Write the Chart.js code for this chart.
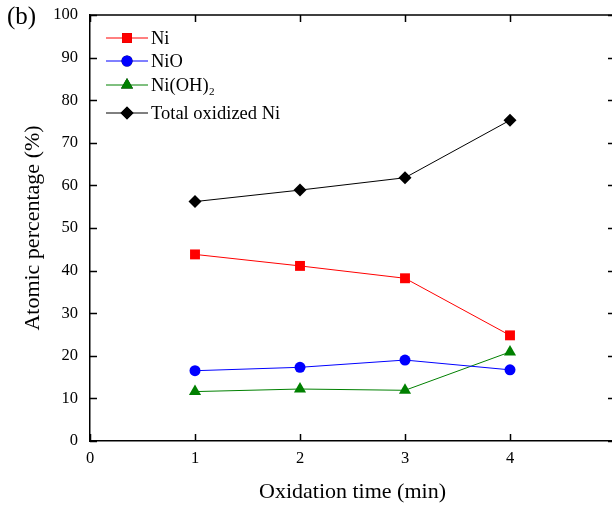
<!DOCTYPE html>
<html>
<head>
<meta charset="utf-8">
<script src="https://cdn.jsdelivr.net/npm/chart.js@4"></script>
<style>
  html, body { margin: 0; padding: 0; background: #fff; overflow: hidden; }
  #wrap { width: 622px; height: 510px; position: relative; }
</style>
</head>
<body>
<div id="wrap"><canvas id="myChart"></canvas></div>
<script>
// oxidation time (min)
const times = [1, 2, 3, 4];
const niVals = [43.8, 41.1, 38.2, 24.8];
const nioVals = [16.5, 17.3, 19.0, 16.7];
const niohVals = [11.6, 12.2, 11.9, 20.9];
const totalVals = [56.2, 58.9, 61.8, 75.3];
const seriesNames = ['Ni', 'NiO', 'Ni(OH)\u2082', 'Total oxidized Ni'];
const xTicks = [0, 1, 2, 3, 4, 5];
const yTicks = [0, 10, 20, 30, 40, 50, 60, 70, 80, 90, 100];

const serif = "'Liberation Serif', 'Times New Roman', serif";

function pts(vals) {
    return vals.map((v, i) => ({ x: times[i], y: v }));
}

// frame, inward ticks, legend, titles
const decor = {
    id: 'decor',
    afterDraw(chart) {
        const ctx = chart.ctx;
        const a = chart.chartArea;
        const xs = chart.scales.x, ys = chart.scales.y;
        ctx.save();
        ctx.strokeStyle = '#000';
        ctx.lineWidth = 1.5;
        ctx.beginPath();
        ctx.moveTo(a.left, a.top); ctx.lineTo(a.right, a.top);
        ctx.moveTo(a.right, a.top); ctx.lineTo(a.right, a.bottom);
        ctx.stroke();
        const tl = 7;
        ctx.beginPath();
        xTicks.forEach(v => {
            const px = Math.round(xs.getPixelForValue(v)) + 0.5;
            ctx.moveTo(px, a.bottom); ctx.lineTo(px, a.bottom - tl);
            ctx.moveTo(px, a.top); ctx.lineTo(px, a.top + tl);
        });
        yTicks.forEach(v => {
            const py = Math.round(ys.getPixelForValue(v)) + 0.5;
            ctx.moveTo(a.left, py); ctx.lineTo(a.left + tl, py);
            ctx.moveTo(a.right, py); ctx.lineTo(a.right - tl, py);
        });
        ctx.stroke();

        // legend
        const rows = [38, 61, 85, 113];
        chart.data.datasets.forEach((ds, i) => {
            const y = rows[i];
            ctx.strokeStyle = ds.borderColor;
            ctx.lineWidth = 1;
            ctx.beginPath();
            ctx.moveTo(106, y); ctx.lineTo(148, y);
            ctx.stroke();
            Chart.helpers.drawPoint(ctx, {
                pointStyle: ds.pointStyle,
                radius: ds.pointRadius,
                borderWidth: 0
            }, 127, y);
            ctx.fillStyle = ds.pointBackgroundColor;
            ctx.fill();
            ctx.fillStyle = '#000';
            ctx.font = '18.5px ' + serif;
            ctx.textBaseline = 'middle';
            ctx.textAlign = 'left';
            ctx.fillText(ds.label, 151, y + 1);
        });

        // titles
        ctx.fillStyle = '#000';
        ctx.textAlign = 'center';
        ctx.textBaseline = 'middle';
        ctx.font = '22px ' + serif;
        ctx.fillText('Oxidation time (min)', (a.left + a.right) / 2, 492);
        ctx.save();
        ctx.translate(33, (a.top + a.bottom) / 2);
        ctx.rotate(-Math.PI / 2);
        ctx.fillText('Atomic percentage (%)', 0, 0);
        ctx.restore();
        ctx.textAlign = 'left';
        ctx.font = '25px ' + serif;
        ctx.fillText('(b)', 7, 17);
        ctx.restore();
    }
};

function mk(label, vals, color, style, r) {
    return {
        label: label,
        data: pts(vals),
        borderColor: color,
        backgroundColor: color,
        pointBackgroundColor: color,
        pointBorderColor: color,
        borderWidth: 1,
        pointStyle: style,
        pointRadius: r,
        pointBorderWidth: 0,
        tension: 0
    };
}

const config = {
    type: 'line',
    data: {
        datasets: [
            mk(seriesNames[0], niVals, '#ff0000', 'rect', 7),
            mk(seriesNames[1], nioVals, '#0000ff', 'circle', 5.5),
            mk(seriesNames[2], niohVals, '#008000', 'triangle', 7),
            mk(seriesNames[3], totalVals, '#000000', 'rectRot', 6.5)
        ]
    },
    options: {
        responsive: false,
        animation: false,
        layout: { padding: { top: 15, right: 6, left: 0, bottom: 0 } },
        plugins: { legend: { display: false }, tooltip: { enabled: false } },
        scales: {
            x: {
                type: 'linear',
                min: 0, max: 5,
                afterBuildTicks: s => { s.ticks = xTicks.map(v => ({ value: v })); },
                afterFit: s => { s.height = 69; s.paddingLeft = 0; s.paddingRight = 0; },
                grid: { display: false, drawTicks: false },
                border: { color: '#000', width: 1.5 },
                ticks: {
                    color: '#000', padding: 8, font: { family: serif, size: 16.5 },
                    callback: v => (v === 5 ? '' : v)
                }
            },
            y: {
                min: 0, max: 100,
                afterBuildTicks: s => { s.ticks = yTicks.map(v => ({ value: v })); },
                afterFit: s => { s.width = 90; s.paddingTop = 0; s.paddingBottom = 0; },
                grid: { display: false, drawTicks: false },
                border: { color: '#000', width: 1.5 },
                ticks: { color: '#000', padding: 12, font: { family: serif, size: 16.5 } }
            }
        }
    },
    plugins: [decor]
};

const cv = document.getElementById('myChart');
cv.width = 622;
cv.height = 510;
var myChart = new Chart(cv, config);
</script>
</body>
</html>
